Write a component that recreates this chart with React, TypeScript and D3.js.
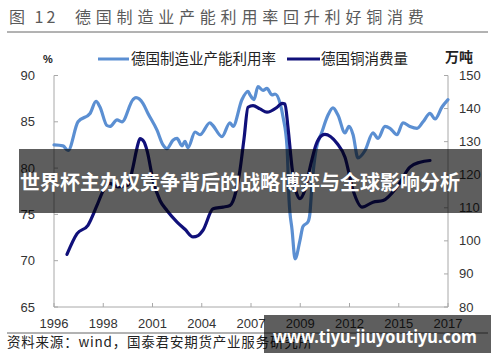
import React from "react";
import * as d3 from "d3";

const W = 500;
const H = 362;

const titleNo = "图 12";
const titleText = "德国制造业产能利用率回升利好铜消费";
const seriesNames = ["德国制造业产能利用率", "德国铜消费量"];
const leftUnit = "%";
const rightUnit = "万吨";
const sourceText = "资料来源：wind，国泰君安期货产业服务研究所";
const bannerText = "世界杯主办权竞争背后的战略博弈与全球影响分析";
const watermarkText = "www.tiyu-jiuyoutiyu.com";

const xTickLabels = ["1996", "1998", "2001", "2004", "2007", "2009", "2012", "2015", "2017"];
const leftTicks = [65, 70, 75, 80, 85, 90];
const rightTicks = [80, 90, 100, 110, 120, 130, 140, 150];

// 德国制造业产能利用率 (%), left axis
const utilYears = [
  1996.0, 1996.48, 1996.75, 1997.28, 1997.92, 1998.24, 1998.45, 1998.82, 1998.98, 1999.36,
  1999.62, 2000.21, 2000.37, 2000.74, 2001.01, 2001.49, 2001.81, 2002.02, 2002.34, 2002.56,
  2002.82, 2002.98, 2003.14, 2003.52, 2003.78, 2004.31, 2004.47, 2004.95, 2005.38, 2005.54,
  2006.02, 2006.34, 2006.45, 2006.66, 2006.87, 2007.14, 2007.35, 2007.62, 2007.78, 2008.05,
  2008.21, 2008.42, 2008.53, 2008.69, 2008.85, 2009.11, 2009.27, 2009.54, 2009.64, 2009.75,
  2009.96, 2010.28, 2010.6, 2010.87, 2011.14, 2011.51, 2011.72, 2011.94, 2012.2, 2012.58,
  2013.0, 2013.27, 2013.64, 2013.91, 2014.28, 2014.6, 2014.97, 2015.35, 2015.67, 2016.04,
  2016.31, 2016.68, 2017.0,
];
const utilValues = [
  82.5, 82.4, 81.9, 85.0, 85.9, 87.2, 86.6, 84.6, 84.5, 85.2,
  85.0, 87.4, 87.6, 87.0, 85.9, 84.1, 82.5, 82.1, 83.0, 83.2,
  82.4, 82.9, 82.2, 83.9, 83.6, 84.9, 84.6, 83.4, 84.9, 84.5,
  87.4, 88.3, 87.9, 87.4, 88.8, 88.4, 88.6, 87.9, 88.0, 87.0,
  85.5, 82.3, 76.5, 73.3, 70.2, 72.2, 73.7, 74.2, 75.1, 78.2,
  81.9, 83.9, 85.7, 86.5, 85.7, 83.8, 84.5, 83.6, 81.1, 81.9,
  83.8, 83.2, 84.5, 84.3, 83.6, 84.9, 84.5, 84.3, 85.0, 85.9,
  85.3, 86.6, 87.4,
];

// 德国铜消费量 (万吨), right axis
const copperYears = [
  1996.69, 1997.23, 1997.81, 1998.29, 1998.61, 1998.98, 1999.41, 1999.94, 2000.21, 2000.42,
  2000.58, 2000.79, 2000.96, 2001.28, 2001.65, 2002.02, 2002.56, 2002.98, 2003.41, 2003.68,
  2003.94, 2004.48, 2005.01, 2005.38, 2005.7, 2005.91, 2006.13, 2006.34, 2006.61, 2006.98,
  2007.35, 2007.89, 2008.15, 2008.31, 2008.47, 2008.69, 2008.9, 2009.11, 2009.38, 2009.64,
  2009.96, 2010.28, 2010.44, 2011.08, 2011.51, 2011.94, 2012.42, 2013.0, 2013.54, 2014.28,
  2014.97, 2015.51, 2016.04,
];
const copperValues = [
  95.9, 102.2, 104.7, 110.7, 115.0, 117.4, 116.3, 116.8, 122.3, 128.0,
  130.9, 130.0, 127.3, 118.3, 112.2, 109.2, 105.7, 103.5, 101.2, 101.6,
  103.2, 109.7, 110.2, 110.7, 115.0, 121.3, 131.0, 140.4, 140.9, 139.9,
  138.9, 140.4, 141.6, 141.4, 134.4, 122.0, 115.0, 112.8, 115.5, 122.0,
  129.0, 131.9, 132.2, 129.5, 125.3, 115.3, 110.2, 111.7, 112.2, 116.3,
  122.3, 123.8, 124.3,
];

const LIGHT = "#5b8fd2";
const DARK = "#10107a";
const AXIS = "#a8a8a8";
const CJK = "'Noto Sans CJK SC', 'Noto Sans', sans-serif";
const NUM = "'Liberation Sans', Arial, sans-serif";

export default function App() {
  const left = 54;
  const right = 448;
  const top = 75.5;
  const bottom = 307;

  const x = d3.scaleLinear().domain([1996, 2017]).range([left, right]);
  const yL = d3.scaleLinear().domain([65, 90]).range([bottom, top]);
  const yR = d3.scaleLinear().domain([80, 150]).range([bottom, top]);
  const xTickPos = d3.scaleLinear().domain([0, xTickLabels.length - 1]).range([left, right]);

  const utilData = utilYears.map((t, i) => [t, utilValues[i]] as [number, number]);
  const copperData = copperYears.map((t, i) => [t, copperValues[i]] as [number, number]);

  const utilLine = d3
    .line<[number, number]>()
    .x((d) => x(d[0]))
    .y((d) => yL(d[1]))
    .curve(d3.curveMonotoneX);
  const copperLine = d3
    .line<[number, number]>()
    .x((d) => x(d[0]))
    .y((d) => yR(d[1]))
    .curve(d3.curveMonotoneX);

  return (
    <svg
      width={W}
      height={H}
      viewBox={`0 0 ${W} ${H}`}
      style={{ position: "absolute", left: 0, top: 0, background: "#fff" }}
    >
      <rect x={0} y={0} width={W} height={H} fill="#fff" />
      {/* title */}
      <text x={9} y={23} fontFamily={CJK} fontSize={16} fill="#5a5a5a" letterSpacing={3}>
        {titleNo}
      </text>
      <text x={75} y={23} fontFamily={CJK} fontSize={16} fill="#5a5a5a" letterSpacing={4.8}>
        {titleText}
      </text>
      <line x1={7} x2={488} y1={32} y2={32} stroke="#666" strokeWidth={1} />

      {/* legend */}
      <text x={48} y={63} fontFamily={NUM} fontSize={11} fontWeight="bold" fill="#222" textAnchor="middle">
        {leftUnit}
      </text>
      <line x1={98} x2={129} y1={59} y2={59} stroke={LIGHT} strokeWidth={3} />
      <text x={131} y={59} dy="0.35em" fontFamily={CJK} fontSize={14.5} fill="#222">
        {seriesNames[0]}
      </text>
      <line x1={287} x2={320} y1={59} y2={59} stroke={DARK} strokeWidth={3} />
      <text x={321} y={59} dy="0.35em" fontFamily={CJK} fontSize={14.5} fill="#222">
        {seriesNames[1]}
      </text>
      <text x={459} y={57} dy="0.35em" fontFamily={CJK} fontSize={14} fontWeight="bold" fill="#222" textAnchor="middle">
        {rightUnit}
      </text>

      {/* axes */}
      <line x1={left} x2={left} y1={top} y2={bottom} stroke={AXIS} />
      <line x1={right} x2={right} y1={top} y2={bottom} stroke={AXIS} />
      <line x1={left} x2={right} y1={bottom} y2={bottom} stroke={AXIS} />
      {leftTicks.map((t) => (
        <g key={"l" + t}>
          <line x1={left} x2={left + 4} y1={yL(t)} y2={yL(t)} stroke={AXIS} />
          <text x={35} y={yL(t)} dy="0.35em" textAnchor="end" fontFamily={NUM} fontSize={13} fill="#333">
            {t}
          </text>
        </g>
      ))}
      {rightTicks.map((t) => (
        <g key={"r" + t}>
          <line x1={right - 4} x2={right} y1={yR(t)} y2={yR(t)} stroke={AXIS} />
          <text x={459} y={yR(t)} dy="0.35em" textAnchor="start" fontFamily={NUM} fontSize={13} fill="#333">
            {t}
          </text>
        </g>
      ))}
      {xTickLabels.map((lab, i) => (
        <g key={"x" + i}>
          <line x1={xTickPos(i)} x2={xTickPos(i)} y1={bottom} y2={bottom - 4} stroke={AXIS} />
          <text x={xTickPos(i)} y={328} textAnchor="middle" fontFamily={NUM} fontSize={13} fill="#333">
            {lab}
          </text>
        </g>
      ))}

      {/* series */}
      <path d={utilLine(utilData) || ""} fill="none" stroke={LIGHT} strokeWidth={3.2} strokeLinejoin="round" strokeLinecap="round" />
      <path d={copperLine(copperData) || ""} fill="none" stroke={DARK} strokeWidth={3.2} strokeLinejoin="round" strokeLinecap="round" />

      {/* source */}
      <line x1={7} x2={488} y1={333} y2={333} stroke="#666" strokeWidth={1} />
      <text x={7} y={347} fontFamily={CJK} fontSize={13.5} fill="#222" textLength={305} lengthAdjust="spacing">
        {sourceText}
      </text>

      {/* overlays */}
      <rect x={19} y={149} width={463} height={64} fill="rgba(0,0,0,0.63)" />
      <text x={20} y={183} dy="0.36em" fontFamily={CJK} fontSize={20} fontWeight="bold" fill="#fff">
        {bannerText}
      </text>
      <rect x={264} y={315} width={227} height={38} fill="rgba(0,0,0,0.63)" />
      <text
        x={273}
        y={343}
        fontFamily="'Noto Sans', 'Open Sans', sans-serif"
        fontSize={18}
        fontWeight="bold"
        fill="#fff"
        textLength={204}
        lengthAdjust="spacingAndGlyphs"
      >
        {watermarkText}
      </text>
    </svg>
  );
}
